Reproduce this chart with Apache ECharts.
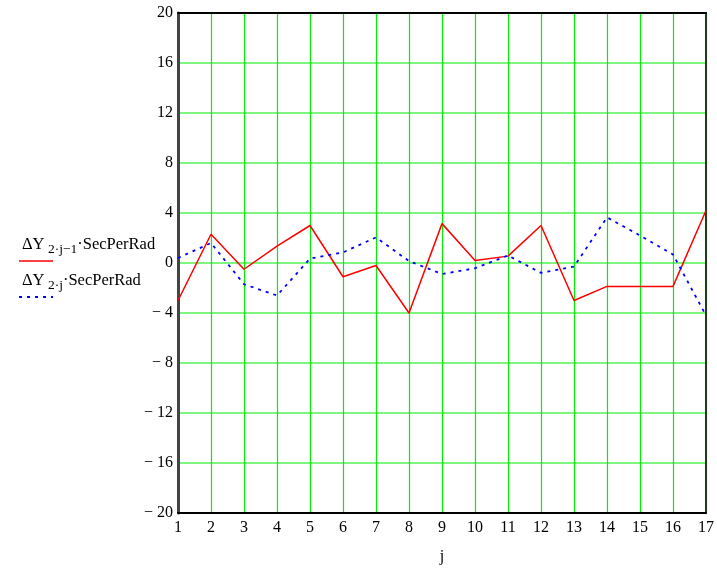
<!DOCTYPE html>
<html>
<head>
<meta charset="utf-8">
<script src="https://cdn.jsdelivr.net/npm/echarts@6/dist/echarts.min.js"></script>
<style>html,body{margin:0;padding:0;background:#fff;}#c{width:717px;height:570px;}</style>
</head>
<body>
<div id="c"></div>
<script>
var jValues = [1,2,3,4,5,6,7,8,9,10,11,12,13,14,15,16,17];
var redValues = [-3.0, 2.3, -0.5, 1.35, 3.0, -1.1, -0.2, -4.0, 3.15, 0.2, 0.55, 3.0, -3.0, -1.87, -1.87, -1.87, 4.2];
var blueValues = [0.4, 1.6, -1.7, -2.6, 0.35, 0.85, 2.05, 0.15, -0.88, -0.42, 0.6, -0.79, -0.29, 3.65, 2.2, 0.68, -4.2];
var yTicks = [-20,-16,-12,-8,-4,0,4,8,12,16,20];

var font = 'Liberation Serif';
function pairs(vals){ return jValues.map(function(j,i){return [j, vals[i]];}); }

var chart = echarts.init(document.getElementById('c'));
chart.setOption({
  animation:false,
  backgroundColor:'#fff',
  grid:{left:178, right:9, top:13, bottom:50},
  xAxis:[{
    type:'value', min:1, max:17, interval:1,
    axisLine:{show:true, onZero:false, lineStyle:{color:'#000', width:2}},
    axisTick:{show:false},
    axisLabel:{color:'#000', fontFamily:font, fontSize:16, margin:7},
    splitLine:{show:true, lineStyle:{color:'#00ee00', width:1.2}},
    name:'j', nameLocation:'middle', nameGap:36,
    nameTextStyle:{color:'#000', fontFamily:font, fontSize:16}
  },{
    type:'value', min:1, max:17, interval:1, position:'top',
    axisLine:{show:true, onZero:false, lineStyle:{color:'#000', width:2}},
    axisTick:{show:false}, axisLabel:{show:false}, splitLine:{show:false}
  }],
  yAxis:[{
    type:'value', min:-20, max:20, interval:4,
    axisLine:{show:true, onZero:false, lineStyle:{color:'#444', width:3}},
    axisTick:{show:false},
    axisLabel:{color:'#000', fontFamily:font, fontSize:16, margin:5,
      formatter:function(v){ return v<0 ? '\u2212 ' + Math.abs(v) : String(v); }},
    splitLine:{show:true, lineStyle:{color:'#55f055', width:1.5}}
  },{
    type:'value', min:-20, max:20, interval:4, position:'right',
    axisLine:{show:true, onZero:false, lineStyle:{color:'#1d3d1d', width:2}},
    axisTick:{show:false}, axisLabel:{show:false}, splitLine:{show:false}
  }],
  series:[{
    type:'line', data:pairs(redValues), symbol:'none',
    lineStyle:{color:'#ff0000', width:1.5}
  },{
    type:'line', data:pairs(blueValues), symbol:'none',
    lineStyle:{color:'#0000ff', width:1.8, type:[3,5]}
  }],
  graphic:[
    {type:'text', left:22, top:236, style:{
      text:'{a|ΔY}{s| 2·j\u22121}{a|·SecPerRad}',
      rich:{a:{fontFamily:font, fontSize:16.5, fill:'#000'}, s:{fontFamily:font, fontSize:13.5, fill:'#000', padding:[9,0,0,0]}}
    }},
    {type:'line', shape:{x1:19, y1:261, x2:53, y2:261}, style:{stroke:'#ff0000', lineWidth:1.5}},
    {type:'text', left:22, top:272, style:{
      text:'{a|ΔY}{s| 2·j}{a|·SecPerRad}',
      rich:{a:{fontFamily:font, fontSize:16.5, fill:'#000'}, s:{fontFamily:font, fontSize:13.5, fill:'#000', padding:[9,0,0,0]}}
    }},
    {type:'line', shape:{x1:19, y1:297, x2:53, y2:297}, style:{stroke:'#0000ff', lineWidth:1.8, lineDash:[3,5]}}
  ]
});
</script>
</body>
</html>
